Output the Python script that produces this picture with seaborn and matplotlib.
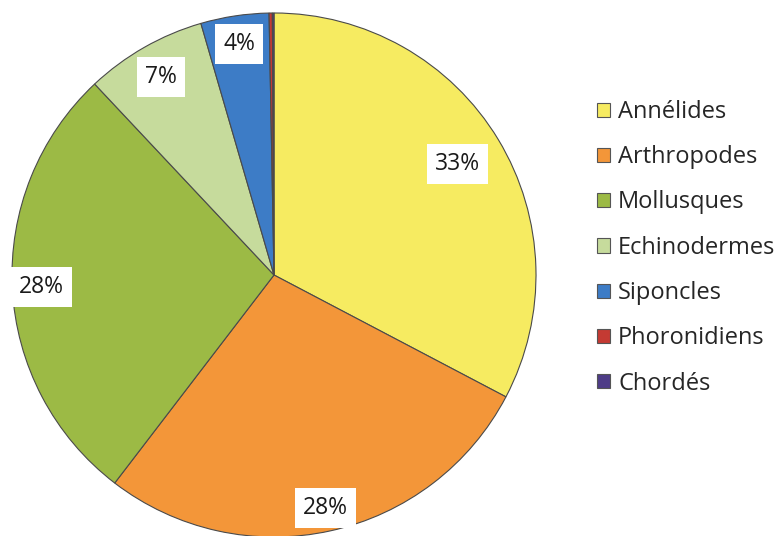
import numpy as np
import matplotlib
matplotlib.use("Agg")
import matplotlib.pyplot as plt
import seaborn as sns

categories = ["Annélides", "Arthropodes", "Mollusques", "Echinodermes",
              "Siponcles", "Phoronidiens", "Chordés"]
values = [32.7, 27.7, 27.6, 7.5, 4.2, 0.2, 0.1]
pct_labels = ["33%", "28%", "28%", "7%", "4%", "", ""]
colors = ["#F6EB61", "#F39639", "#9CBA45", "#C6DB9C", "#3D7CC6", "#C43A33", "#4E3C87"]
label_radius = [0.82, 0.91, 0.89, 0.87, 0.89, 0.9, 0.9]

sns.set_theme(style="white")
plt.rcParams["font.family"] = ["Open Sans", "DejaVu Sans"]
palette = sns.color_palette(colors)

fig = plt.figure(figsize=(7.83, 5.36), dpi=100)
R = 262
cx, cy = 274, 275
ax = fig.add_axes([(cx - R) / 783, (536 - cy - R) / 536, 2 * R / 783, 2 * R / 536])

wedges, _ = ax.pie(values, colors=palette, startangle=90, counterclock=False,
                   radius=1.0,
                   wedgeprops=dict(edgecolor="#4a4a4a", linewidth=0.8))
ax.set_xlim(-1, 1)
ax.set_ylim(-1, 1)
ax.set_aspect("equal")
ax.axis("off")

for w, lab, r in zip(wedges, pct_labels, label_radius):
    if not lab:
        continue
    ang = np.deg2rad((w.theta1 + w.theta2) / 2)
    ax.text(r * np.cos(ang), r * np.sin(ang), lab, ha="center", va="center",
            fontsize=16.5, color="#1a1a1a",
            bbox=dict(boxstyle="square,pad=0.35", facecolor="white", edgecolor="none"))

leg = fig.legend(wedges, categories, loc="upper left",
                 bbox_to_anchor=(597 / 783, 1 - 100 / 536),
                 frameon=False, fontsize=17, handlelength=0.55, handleheight=0.55,
                 handletextpad=0.35, labelspacing=0.9, borderaxespad=0, borderpad=0)
for h in leg.legend_handles:
    h.set_edgecolor("#555555")
    h.set_linewidth(0.8)

fig.savefig("out.png", dpi=100)
